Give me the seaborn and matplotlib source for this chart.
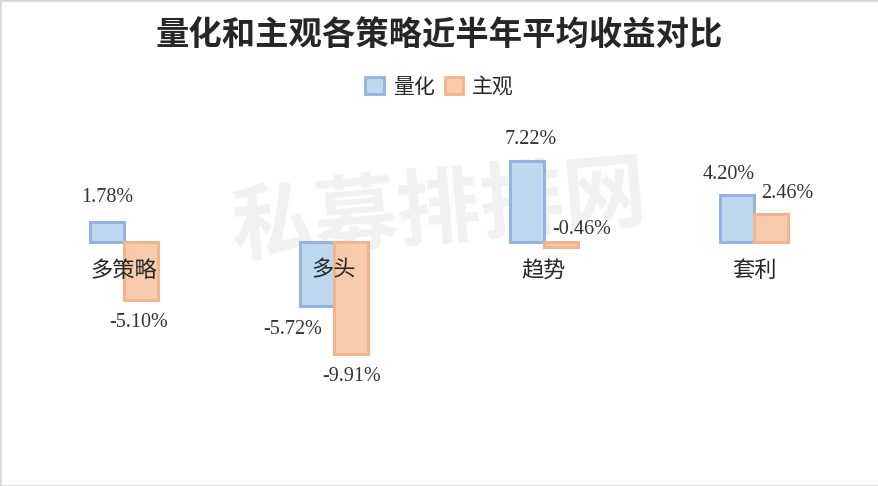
import pandas as pd
import matplotlib.pyplot as plt
import seaborn as sns
from matplotlib.patches import Patch, Rectangle

# --- data ---
categories = ['多策略', '多头', '趋势', '套利']
series_names = ['量化', '主观']
quant = [1.78, -5.72, 7.22, 4.20]
subjective = [-5.10, -9.91, -0.46, 2.46]

df = pd.DataFrame({
    '策略': categories * 2,
    '类型': [series_names[0]] * len(categories) + [series_names[1]] * len(categories),
    '收益': quant + subjective,
})

# --- style ---
sns.set_theme(style='white')
plt.rcParams['font.family'] = ['Noto Sans CJK SC', 'DejaVu Sans']

fills = {'量化': '#BDD7EE', '主观': '#F8CBAD'}
edges = {'量化': '#95B3DE', '主观': '#F2B48C'}
text_color = '#262626'
num_font = ['Liberation Serif', 'DejaVu Serif']

# label nudges in pixels (dx, dy) from the bar end
nudges = {
    '量化': [(0, 24), (-24, -23), (4, 21), (-8, 20)],
    '主观': [(-2, -23), (1, -23), (21, 18), (16, 21)],
}

fig = plt.figure(figsize=(8.79, 4.86), dpi=100)
ax = fig.add_axes([19 / 879, 1 - 420 / 486, 840 / 879, 320 / 486])

sns.barplot(data=df, x='策略', y='收益', hue='类型', palette=fills,
            width=0.324, saturation=1, ax=ax, legend=False, zorder=2)

for cont, name in zip(ax.containers, series_names):
    for bar, (dx, dy) in zip(cont, nudges[name]):
        bar.set_edgecolor(edges[name])
        bar.set_linewidth(2.2)
        h = bar.get_height()
        xc = bar.get_x() + bar.get_width() / 2
        ax.annotate(f'{h:.2f}%', (xc, h), xytext=(dx, dy), textcoords='offset pixels',
                    ha='center', va='center', fontsize=14.5, family=num_font,
                    color='#333333', zorder=6)

# category names sit just under the zero line, over the bars
for i, cat in enumerate(categories):
    ax.annotate(cat, (i, 0), xytext=(0, -28), textcoords='offset pixels',
                ha='center', va='center', fontsize=16, color=text_color, zorder=5)

ax.set_xlim(-0.5, len(categories) - 0.5)
ax.set_ylim(-15.79, 12.6)
ax.axis('off')

# watermark
ax.text(0.5, 1 - 212 / 486, '私募排排网', transform=fig.transFigure, ha='center', va='center',
        fontsize=60, fontweight='bold', color='#F1F1F1', rotation=5, zorder=0)

fig.text(0.5, 1 - 35 / 486, '量化和主观各策略近半年平均收益对比', ha='center', va='center',
         fontsize=24, fontweight='semibold', color=text_color)

handles = [Patch(facecolor=fills[n], edgecolor=edges[n], linewidth=2, label=n) for n in series_names]
fig.legend(handles=handles, loc='center', bbox_to_anchor=(0.5, 1 - 87 / 486), ncol=2,
           frameon=False, fontsize=15, handlelength=0.9, handleheight=0.9,
           handletextpad=0.4, columnspacing=0.5, labelcolor=text_color)

fig.add_artist(Rectangle((0, 0), 1, 1, transform=fig.transFigure, fill=False,
                         edgecolor='#D9D9D9', linewidth=2))

fig.savefig('out.png', dpi=100)
